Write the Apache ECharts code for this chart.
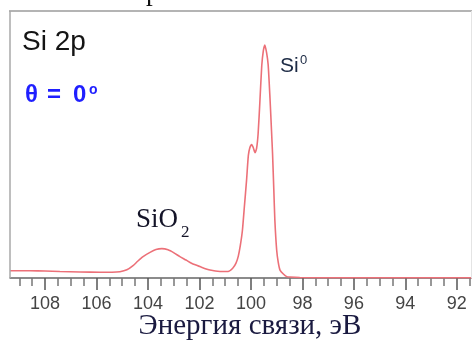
<!DOCTYPE html>
<html><head><meta charset="utf-8">
<script src="https://cdn.jsdelivr.net/npm/echarts@6/dist/echarts.min.js"></script>
<style>html,body{margin:0;padding:0;background:#fff}#c{width:472px;height:340px}</style>
</head><body><div id="c"></div>
<script>
// Binding energy (eV) and intensity (arb. units, main peak = 100)
const energy = [109.36,108.58,108.00,107.42,106.64,105.86,105.40,105.09,104.82,104.58,104.39,104.19,103.92,103.69,103.46,103.22,102.99,102.76,102.52,102.29,101.98,101.59,101.20,100.89,100.70,100.58,100.49,100.41,100.33,100.25,100.17,100.10,100.04,99.97,99.91,99.84,99.78,99.72,99.65,99.58,99.52,99.46,99.39,99.33,99.26,99.20,99.16,99.11,99.07,99.00,98.94,98.87,98.74,98.61,98.49,98.10,96.16,94.21,91.42];
const intensity = [3.1,3.1,3.0,2.8,2.6,2.5,2.5,2.7,3.5,5.3,7.3,9.2,11.0,12.2,12.6,12.1,10.8,9.2,7.7,6.2,4.9,3.4,2.8,2.8,4.3,6.4,9.4,14.1,20.5,31.2,41.9,52.6,56.0,57.3,56.0,53.8,55.6,62.0,76.1,91.0,97.4,100,96.6,91.5,77.4,63.2,53.4,37.6,24.8,12.0,6.8,3.4,1.7,0.6,0.4,0.2,0.1,0.1,0.1];
const majorTicks = [92,94,96,98,100,102,104,106,108];
const minorTicks = [91.5,92.5,93,93.5,94.5,95,95.5,96.5,97,97.5,98.5,99,99.5,100.5,101,101.5,102.5,103,103.5,104.5,105,105.5,106.5,107,107.5,108.5,109];
const axisTitle = 'Энергия связи, эВ';

const chart = echarts.init(document.getElementById('c'), null, {renderer:'canvas'});
const xMin = 91.45, xMax = 109.36;
chart.setOption({
  animation:false,
  grid:{left:10,right:1,top:11,bottom:62},
  xAxis:[{
    type:'value', inverse:true, min:xMin, max:xMax,
    axisLine:{show:true,lineStyle:{color:'#666',width:1.5}},
    axisTick:{show:true,customValues:majorTicks,length:12,lineStyle:{color:'#555',width:1.5}},
    axisLabel:{customValues:majorTicks,margin:17,color:'#444',fontSize:18,fontFamily:'Liberation Sans'},
    splitLine:{show:false}
  },{
    type:'value', inverse:true, min:xMin, max:xMax, position:'bottom',
    axisLine:{show:false},
    axisTick:{show:true,customValues:minorTicks,length:8,lineStyle:{color:'#777',width:1.5}},
    axisLabel:{show:false},
    splitLine:{show:false}
  }],
  yAxis:{type:'value',min:0,max:114.6,show:false,splitLine:{show:false}},
  series:[{
    type:'line', xAxisIndex:0, showSymbol:false, smooth:0.2,
    data: energy.map((e,i)=>[e,intensity[i]]),
    lineStyle:{color:'#ec7078',width:1.6}
  }],
  graphic:[
    {type:'line',shape:{x1:9,y1:11,x2:472,y2:11},style:{stroke:'#b4b4b4',lineWidth:2},z:10},
    {type:'line',shape:{x1:10,y1:11,x2:10,y2:278},style:{stroke:'#a8a8a8',lineWidth:1.5},z:10},
    {type:'line',shape:{x1:471.5,y1:11,x2:471.5,y2:278},style:{stroke:'#e4e4e4',lineWidth:1},z:10},
    {type:'text',x:146,y:6,style:{text:'р',font:'27px "Liberation Serif"',fill:'#111',verticalAlign:'bottom'}},
    {type:'text',x:22,y:42,style:{text:'Si 2p',font:'28px "Liberation Sans"',fill:'#141414',verticalAlign:'middle'}},
    {type:'text',x:25,y:95,style:{text:'θ',font:'bold 24px "Liberation Sans"',fill:'#1f1fff',verticalAlign:'middle'}},
    {type:'text',x:47,y:95,style:{text:'=',font:'bold 24px "Liberation Sans"',fill:'#1f1fff',verticalAlign:'middle'}},
    {type:'text',x:73,y:95,style:{text:'0',font:'bold 24px "Liberation Sans"',fill:'#1f1fff',verticalAlign:'middle'}},
    {type:'text',x:89,y:90,style:{text:'o',font:'bold 14px "Liberation Sans"',fill:'#1f1fff',verticalAlign:'middle'}},
    {type:'text',x:280,y:66,style:{text:'Si',font:'21px "Liberation Sans"',fill:'#1c2a44',verticalAlign:'middle'}},
    {type:'text',x:300,y:60,style:{text:'0',font:'13px "Liberation Sans"',fill:'#1c2a44',verticalAlign:'middle'}},
    {type:'text',x:136,y:220,style:{text:'SiO',font:'27px "Liberation Serif"',fill:'#141428',verticalAlign:'middle'}},
    {type:'text',x:181,y:233,style:{text:'2',font:'17px "Liberation Serif"',fill:'#141428',verticalAlign:'middle'}},
    {type:'text',x:250,y:341,style:{text:axisTitle,font:'29px "Liberation Serif"',fill:'#1a1a40',align:'center',verticalAlign:'bottom'}}
  ]
});
</script></body></html>
